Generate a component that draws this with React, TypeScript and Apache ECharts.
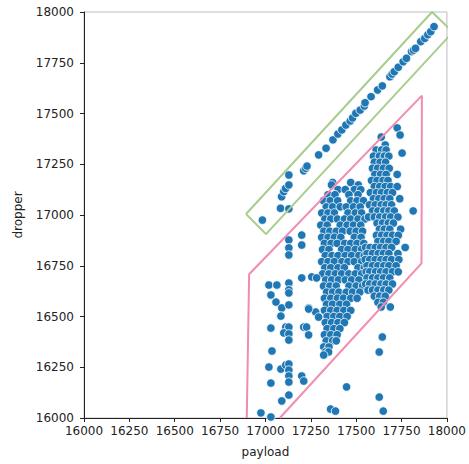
import React, { useEffect, useRef } from "react";
import * as echarts from "echarts";

// Axis ticks
const tickValues = [16000, 16250, 16500, 16750, 17000, 17250, 17500, 17750, 18000];

// Points along the upper diagonal band [payload, dropper]
const bandPoints: number[][] = [
  [16983, 16975], [17083, 17033], [17129, 17030], [17089, 17090], [17101, 17115],
  [17111, 17131], [17129, 17148], [17129, 17197], [17211, 17218], [17222, 17230],
  [17229, 17241], [17293, 17296], [17334, 17329], [17372, 17370], [17399, 17399],
  [17421, 17419], [17443, 17443], [17467, 17463], [17480, 17478], [17498, 17501],
  [17522, 17517], [17545, 17537], [17549, 17553], [17582, 17583], [17618, 17616],
  [17644, 17636], [17686, 17681], [17698, 17694], [17710, 17706], [17732, 17728],
  [17759, 17755], [17777, 17772], [17805, 17805], [17816, 17812], [17827, 17821],
  [17856, 17854], [17878, 17870], [17895, 17888], [17911, 17903], [17929, 17928],
];

// Right dense column rows: [dropper, payloads]
const rightColumnRows: [number, number[]][] = [
  [17429, [17726]], [17394, [17742]], [17384, [17638]], [17345, [17660]], [17305, [17753]],
  [17320, [17610, 17640, 17665]],
  [17290, [17595, 17628, 17655, 17680]],
  [17260, [17600, 17632, 17662]],
  [17230, [17590, 17618, 17650, 17682]],
  [17200, [17603, 17635, 17665, 17726]],
  [17170, [17585, 17615, 17648, 17675]],
  [17140, [17600, 17630, 17660, 17690, 17726]],
  [17110, [17578, 17612, 17640, 17672, 17700]],
  [17080, [17595, 17625, 17655, 17685, 17740]],
  [17050, [17573, 17605, 17638, 17665, 17695]],
  [17020, [17590, 17620, 17652, 17680, 17710, 17814]],
  [16990, [17568, 17600, 17630, 17662, 17690, 17730]],
  [16960, [17615, 17645, 17677, 17705]],
  [16930, [17628, 17655, 17685, 17745]],
  [16900, [17612, 17640, 17670, 17700, 17732]],
  [16870, [17620, 17652, 17680, 17720]],
  [16840, [17552, 17577, 17605, 17635, 17665, 17695, 17770]],
  [16810, [17560, 17590, 17622, 17650, 17680, 17730]],
  [16780, [17550, 17575, 17605, 17637, 17665, 17695, 17735]],
  [16750, [17560, 17590, 17620, 17652, 17680, 17720]],
  [16720, [17555, 17575, 17607, 17635, 17665, 17700, 17732]],
  [16690, [17560, 17590, 17620, 17650, 17685]],
  [16660, [17552, 17575, 17605, 17637, 17665, 17700]],
  [16630, [17565, 17590, 17620, 17652, 17680]],
  [16600, [17600, 17630, 17660]],
  [16570, [17620, 17650]],
  [16547, [17638, 17688]],
];

// Left dense lobe rows: [dropper, payloads]
const leftLobeRows: [number, number[]][] = [
  [17160, [17370, 17470]],
  [17148, [17364, 17512]],
  [17125, [17400, 17440, 17490, 17525]],
  [17100, [17345, 17383, 17460, 17510]],
  [17070, [17320, 17357, 17398, 17470, 17505, 17540]],
  [17040, [17335, 17370, 17412, 17445, 17485, 17522]],
  [17010, [17310, 17345, 17380, 17455, 17495, 17530]],
  [16980, [17327, 17360, 17397, 17435, 17470, 17510, 17548]],
  [16950, [17305, 17340, 17412, 17450, 17485, 17525]],
  [16920, [17322, 17355, 17390, 17425, 17467, 17500, 17535]],
  [16890, [17310, 17345, 17380, 17415, 17490, 17527]],
  [16860, [17325, 17362, 17395, 17437, 17470, 17505, 17542]],
  [16830, [17315, 17350, 17420, 17455, 17495, 17530]],
  [16800, [17330, 17367, 17400, 17440, 17475, 17515, 17545]],
  [16770, [17310, 17345, 17380, 17422, 17455, 17490, 17530]],
  [16740, [17327, 17360, 17400, 17435, 17510, 17545]],
  [16710, [17315, 17350, 17385, 17420, 17460, 17495, 17530]],
  [16680, [17332, 17365, 17402, 17440, 17475, 17515]],
  [16650, [17320, 17355, 17390, 17460, 17500, 17535]],
  [16620, [17337, 17370, 17405, 17445, 17480, 17520]],
  [16590, [17325, 17360, 17397, 17430, 17470, 17505]],
  [16560, [17337, 17370, 17410, 17447]],
  [16530, [17325, 17360, 17395, 17432, 17470]],
  [16500, [17340, 17377, 17410, 17450]],
  [16470, [17330, 17365, 17400, 17435]],
  [16440, [17340, 17377, 17410]],
  [16410, [17325, 17360, 17395]],
  [16380, [17335, 17370, 17390]],
  [16350, [17321, 17350]],
  [16325, [17330, 17348]],
  [16310, [17321]],
];

// Scattered points [payload, dropper]
const scatteredPoints: number[][] = [
  [17200, 16901], [17200, 16852], [17200, 16690], [17255, 16695], [17282, 16690],
  [17238, 16542], [17277, 16522], [17293, 16497],
  [17129, 16877], [17129, 16838], [17129, 16803],
  [17019, 16655], [17063, 16655], [17129, 16665], [17129, 16631], [17129, 16616],
  [17030, 16606], [17058, 16571], [17090, 16542], [17129, 16557],
  [17085, 16502], [17238, 16537], [17030, 16443], [17112, 16448], [17129, 16448],
  [17101, 16419], [17129, 16414], [17211, 16448], [17227, 16448], [17238, 16409],
  [17129, 16384], [17036, 16330], [17019, 16251], [17085, 16241], [17112, 16261],
  [17129, 16266], [17129, 16236], [17129, 16207], [17129, 16177], [17200, 16207],
  [17211, 16182], [17030, 16172], [17447, 16153], [17129, 16113], [17090, 16084],
  [17627, 16103], [16975, 16025], [17030, 16005], [17359, 16044], [17386, 16034],
  [17649, 16034], [17644, 16399], [17627, 16325],
];

// Outline polygons [payload, dropper]
const greenOutline: number[][] = [
  [16893, 17005], [17003, 16906], [18033, 17901], [17918, 18000], [16893, 17005],
];
const pinkOutline: number[][] = [
  [16897, 16000], [16910, 16708], [17862, 17588], [17860, 16762], [17079, 16000],
];

function rowsToPoints(rows: [number, number[]][]): number[][] {
  const out: number[][] = [];
  rows.forEach(([y, xs]) => xs.forEach((x) => out.push([x, y])));
  return out;
}

export default function App() {
  const ref = useRef<HTMLDivElement>(null);
  useEffect(() => {
    document.body.style.margin = "0";
    const chart = echarts.init(ref.current!, null, { renderer: "svg" });
    const allPoints = [
      ...bandPoints,
      ...rowsToPoints(leftLobeRows),
      ...rowsToPoints(rightColumnRows),
      ...scatteredPoints,
    ];
    const font = "DejaVu Sans";
    chart.setOption({
      animation: false,
      backgroundColor: "#fff",
      grid: {
        left: 84, right: 20, top: 12, bottom: 46,
        show: true, borderColor: "#bcbcbc", borderWidth: 1,
      },
      xAxis: {
        type: "value", min: 16000, max: 18000, interval: 250,
        name: "payload", nameLocation: "middle", nameGap: 28,
        nameTextStyle: { fontFamily: font, fontSize: 12, color: "#222" },
        axisLine: { show: true, lineStyle: { color: "#222", width: 1 } },
        axisTick: { show: true, inside: false, length: 4, lineStyle: { color: "#222" } },
        axisLabel: {
          fontFamily: font, fontSize: 12, color: "#222", margin: 7,
          formatter: (v: number) => (tickValues.includes(v) ? String(v) : ""),
        },
        splitLine: { show: false },
      },
      yAxis: {
        type: "value", min: 16000, max: 18000, interval: 250,
        name: "dropper", nameLocation: "middle", nameGap: 60, nameRotate: 90,
        nameTextStyle: { fontFamily: font, fontSize: 12, color: "#222" },
        axisLine: { show: true, lineStyle: { color: "#222", width: 1 } },
        axisTick: { show: true, inside: false, length: 4, lineStyle: { color: "#222" } },
        axisLabel: {
          fontFamily: font, fontSize: 12, color: "#222", margin: 10,
          formatter: (v: number) => (tickValues.includes(v) ? String(v) : ""),
        },
        splitLine: { show: false },
      },
      series: [
        {
          type: "scatter",
          data: allPoints,
          symbolSize: 8.5,
          itemStyle: { color: "#1f77b4", borderColor: "#ffffff", borderWidth: 0.8, opacity: 1 },
          z: 2,
        },
        {
          type: "line",
          data: greenOutline,
          clip: false,
          symbol: "none",
          lineStyle: { color: "#a9cc8e", width: 2 },
          z: 3,
        },
        {
          type: "line",
          data: pinkOutline,
          clip: false,
          symbol: "none",
          lineStyle: { color: "#f28bb0", width: 2 },
          z: 3,
        },
      ],
    });
    return () => chart.dispose();
  }, []);
  return <div ref={ref} style={{ width: 469, height: 464, position: "absolute", left: 0, top: 0 }} />;
}
